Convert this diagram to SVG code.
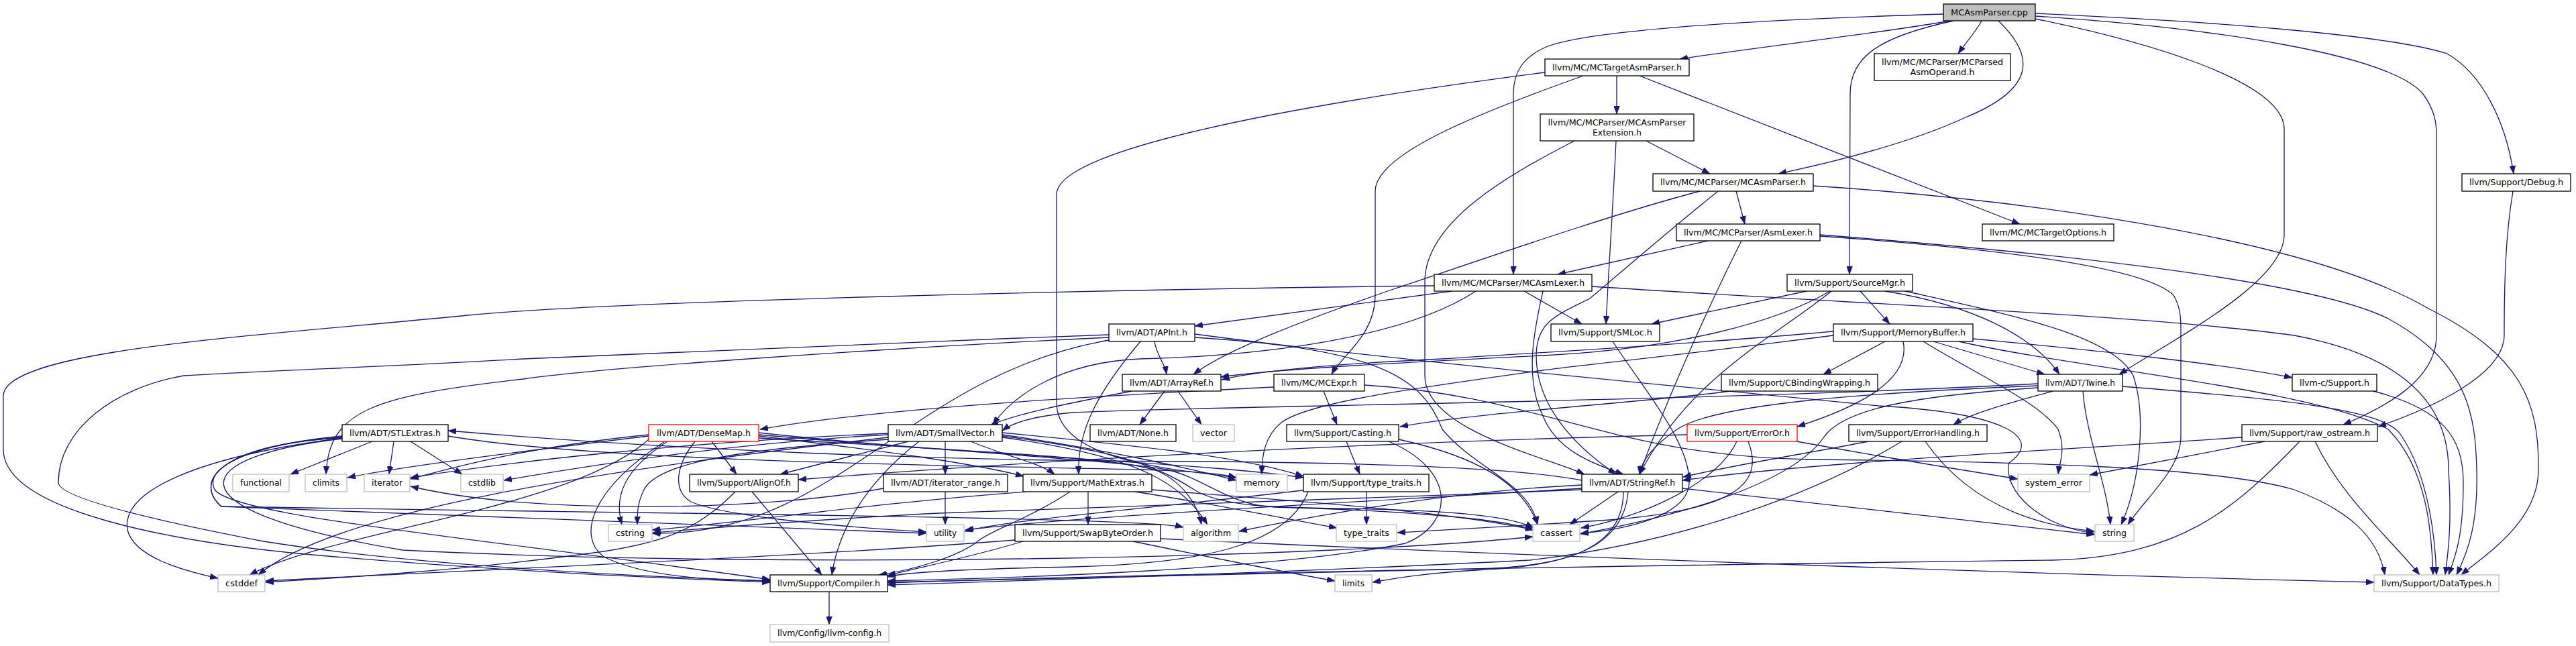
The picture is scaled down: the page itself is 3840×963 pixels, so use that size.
<svg xmlns="http://www.w3.org/2000/svg" width="3840" height="963" viewBox="0 0 3840 963">
<style>
.node rect{fill:#fff;stroke:#000;stroke-width:1.3}
.node.gray rect{stroke:#bfbfbf}
.node.red rect{stroke:#ff0000}
.node.root rect{fill:#bfbfbf}
.node text{font-family:"DejaVu Sans Condensed","DejaVu Sans","Liberation Sans",sans-serif;font-stretch:condensed;font-size:13px;text-anchor:middle;fill:#000}
.edges path{fill:none;stroke:#191970;stroke-width:1.3;marker-end:url(#ah)}
</style>
<defs>
<marker id="ah" viewBox="0 0 12 9" refX="12" refY="4.5" markerWidth="12" markerHeight="9" orient="auto" markerUnits="userSpaceOnUse"><path d="M0,0L12,4.5L0,9z" fill="#191970" stroke="#191970" stroke-width="0.5"/></marker>
</defs>
<rect x="0" y="0" width="3840" height="963" fill="#fff"/>
<g class="edges">
<path d="M2907,31 C2800,50 2620,70 2504,88"/>
<path d="M2954,31 C2945,48 2930,64 2919,80"/>
<path d="M2979,31 C3030,80 3040,130 2930,175 C2850,212 2750,238 2651,259"/>
<path d="M2897,21 C2600,30 2380,45 2310,68 C2268,84 2256,110 2256,140 L2256,409"/>
<path d="M2912,31 C2800,55 2758,85 2758,140 L2757,409"/>
<path d="M3034,20 C3300,32 3560,52 3648,80 C3700,110 3735,180 3747,259"/>
<path d="M3034,24 C3300,42 3560,80 3612,140 C3630,165 3632,185 3632,200 L3632,500 C3632,565 3560,605 3493,633"/>
<path d="M3034,28 C3200,62 3400,120 3405,190 L3405,350 C3405,420 3250,500 3159,558"/>
<path d="M2410,113 L2410,170"/>
<path d="M2444,113 L3011,334"/>
<path d="M2360,113 C2200,170 2050,230 2050,285 L2050,440 C2050,500 2000,530 1985,558"/>
<path d="M2303,108 C1900,160 1575,225 1575,290 L1575,600 C1575,690 1760,700 1843,712"/>
<path d="M2454,210 L2549,259"/>
<path d="M2409,210 C2405,300 2398,400 2394,483"/>
<path d="M2347,210 C2250,260 2124,330 2124,420 L2124,560 C2124,640 2300,680 2362,707"/>
<path d="M2588,285 L2601,334"/>
<path d="M2534,285 C2400,320 2200,390 2080,430 C1950,475 1830,520 1779,558"/>
<path d="M2561,285 C2480,350 2400,420 2370,445 C2320,470 2290,480 2290,530 C2290,600 2340,660 2409,707"/>
<path d="M2703,277 C3050,300 3450,360 3620,460 C3760,530 3785,600 3784,700 C3784,780 3700,830 3669,857"/>
<path d="M2546,359 L2322,409"/>
<path d="M2596,359 C2560,430 2490,580 2444,707"/>
<path d="M2713,350 C3100,380 3450,420 3560,475 C3680,540 3690,620 3692,700 C3694,780 3680,820 3662,857"/>
<path d="M2713,352 C3000,372 3200,400 3240,440 C3252,460 3251,480 3251,500 L3251,650 C3251,700 3200,740 3172,782"/>
<path d="M2164,434 L1781,486"/>
<path d="M2272,434 L2358,483"/>
<path d="M2300,434 C2290,480 2270,560 2300,620 C2320,670 2370,690 2420,707"/>
<path d="M2138,426 C1600,432 900,450 697,470 C400,500 5,520 5,590 L5,670 C5,760 250,810 500,830 C800,855 1000,862 1148,868"/>
<path d="M2373,427 C2800,455 3200,470 3420,500 C3580,530 3650,600 3650,700 C3655,780 3650,820 3645,857"/>
<path d="M2200,434 C2100,500 1900,530 1700,535 C1580,540 1510,590 1480,633"/>
<path d="M2693,434 L2462,483"/>
<path d="M2728,434 C2650,480 2500,520 2300,530 C2100,540 1900,550 1820,562"/>
<path d="M2730,434 C2650,500 2520,560 2444,707"/>
<path d="M2773,434 L2817,483"/>
<path d="M2810,434 C2940,455 3030,500 3070,558"/>
<path d="M2840,434 C3000,470 3150,500 3180,560 C3200,620 3190,720 3162,782"/>
<path d="M1721,509 C1724,530 1736,540 1739,558"/>
<path d="M1700,509 C1640,580 1605,640 1608,707"/>
<path d="M1653,503 C1300,520 900,548 780,565 C560,590 490,610 486,707"/>
<path d="M1653,499 C1300,512 900,528 780,535 C600,546 400,552 274,560 C170,578 87,640 87,720 C90,740 200,770 393,807 C600,840 900,858 1148,866"/>
<path d="M1653,507 C1350,560 1250,800 972,795"/>
<path d="M1781,503 C2050,520 2120,560 2150,640 C2200,700 2280,720 2292,782"/>
<path d="M1781,498 C2100,540 2500,575 2800,605 C2980,615 3050,650 2995,690 C2985,730 3040,785 3122,795"/>
<path d="M2404,509 C2450,580 2520,660 2518,720 C2516,770 2420,790 2356,795"/>
<path d="M2810,509 L2718,558"/>
<path d="M2837,509 C2850,570 2760,610 2679,636"/>
<path d="M2882,509 L3048,558"/>
<path d="M2941,505 C3100,520 3300,540 3417,563"/>
<path d="M2920,509 C3100,550 3450,580 3560,640 C3620,700 3625,800 3627,857"/>
<path d="M2733,494 C2500,515 2300,525 2150,535 C2000,542 1880,552 1821,566"/>
<path d="M2733,500 C2500,530 2350,545 2300,552 C2100,580 1950,600 1910,630 C1885,650 1881,680 1881,707"/>
<path d="M2867,509 C2950,560 3040,600 3068,640 C3080,670 3070,690 3068,707"/>
<path d="M2580,583 C2450,600 2200,615 2087,636"/>
<path d="M3060,583 C3000,600 2940,615 2912,633"/>
<path d="M3038,575 C2800,585 2560,600 2500,640 C2460,668 2446,690 2444,707"/>
<path d="M3038,578 C2850,590 2750,610 2720,650 C2680,710 2550,760 2356,796"/>
<path d="M3038,572 C2500,600 1800,605 1600,615 C1540,620 1510,630 1494,642"/>
<path d="M3164,576 C3400,595 3560,610 3580,650 C3620,710 3630,800 3632,857"/>
<path d="M3105,583 C3110,650 3140,720 3146,782"/>
<path d="M3538,583 C3640,610 3672,650 3672,720 C3672,800 3660,830 3650,857"/>
<path d="M3746,285 C3735,350 3733,420 3733,500 C3733,560 3620,610 3545,636"/>
<path d="M3376,658 L3115,708"/>
<path d="M3451,658 C3490,740 3560,800 3607,857"/>
<path d="M3342,652 C3000,675 2700,690 2508,716"/>
<path d="M3428,658 C3330,760 3250,830 3060,835 C2500,842 1700,855 1323,869"/>
<path d="M2515,648 C2000,660 1500,690 1190,715"/>
<path d="M2589,658 C2560,720 2450,770 2357,787"/>
<path d="M2678,658 C2800,680 2920,700 3008,714"/>
<path d="M2606,658 C2630,720 2590,760 2400,775 C2250,785 2150,790 2083,794"/>
<path d="M2785,658 C2700,675 2600,690 2509,711"/>
<path d="M2835,658 C2700,740 2500,810 2280,835 C1900,855 1500,866 1323,872"/>
<path d="M2870,658 C2920,730 3000,780 3122,792"/>
<path d="M2358,716 C2250,695 2000,690 1800,688 C1400,688 1000,670 668,642"/>
<path d="M2427,733 C2420,820 2330,845 2200,848 C1800,858 1500,866 1323,868"/>
<path d="M2358,723 C2200,730 2000,760 1847,792"/>
<path d="M2412,733 L2340,782"/>
<path d="M2358,730 C2000,745 1600,755 1400,765 C1200,775 1050,788 973,794"/>
<path d="M2420,733 C2420,820 2330,845 2200,850 C2120,855 2080,862 2046,868"/>
<path d="M2508,728 C2800,760 3000,785 3122,797"/>
<path d="M2358,728 C2000,750 1600,770 1439,790"/>
<path d="M1899,577 C1600,592 1300,610 1133,640"/>
<path d="M1973,583 L1993,633"/>
<path d="M2034,574 C2300,590 2400,680 2700,685 C3000,688 3300,695 3420,730 C3500,760 3545,800 3555,857"/>
<path d="M2007,658 L2027,707"/>
<path d="M2070,658 C2170,700 2170,780 2095,810 C1900,850 1500,862 1323,866"/>
<path d="M2085,655 C2200,680 2270,720 2292,782"/>
<path d="M2037,733 L2037,782"/>
<path d="M1950,733 C1920,810 1800,840 1600,845 C1450,848 1350,852 1323,860"/>
<path d="M1950,730 C1700,760 1500,775 1438,792"/>
<path d="M1409,658 L1409,707"/>
<path d="M1354,658 L1163,707"/>
<path d="M1370,658 C1290,720 1250,790 1240,857"/>
<path d="M1447,658 C1500,680 1550,690 1572,707"/>
<path d="M1494,648 C1650,670 1780,700 1843,716"/>
<path d="M1494,645 C1700,665 1850,680 1943,710"/>
<path d="M1494,652 C1700,680 1760,720 1800,782"/>
<path d="M1494,650 C1650,670 1720,690 1780,730 C1820,755 1900,757 2000,758 C2150,760 2250,768 2286,787"/>
<path d="M1324,655 C1100,670 980,690 960,730 C950,750 950,765 950,782"/>
<path d="M1324,652 C900,700 500,760 385,857"/>
<path d="M1324,648 C1100,660 900,690 751,716"/>
<path d="M1324,646 C1000,660 750,690 612,712"/>
<path d="M1061,658 L1098,707"/>
<path d="M991,658 C880,730 860,800 900,830 C960,860 1060,865 1148,866"/>
<path d="M995,658 C930,700 915,740 927,782"/>
<path d="M1036,658 C1010,690 1000,730 1030,748 C1080,770 1250,785 1381,793"/>
<path d="M1131,650 C1300,670 1450,690 1526,710"/>
<path d="M1131,645 C1450,680 1800,690 1943,712"/>
<path d="M1131,653 C1400,670 1650,680 1720,700 C1760,715 1785,750 1791,782"/>
<path d="M1131,648 C1400,672 1650,685 1740,700 C1800,715 1830,752 1900,756 C2050,760 2230,770 2286,790"/>
<path d="M967,650 C800,670 600,695 518,712"/>
<path d="M967,655 C850,760 500,790 372,857"/>
<path d="M967,648 C800,665 700,690 612,714"/>
<path d="M555,658 L433,707"/>
<path d="M587,658 L580,707"/>
<path d="M612,658 L689,707"/>
<path d="M510,650 C400,660 300,690 320,730 C350,770 700,800 1148,864"/>
<path d="M510,652 C320,665 290,720 330,755 C900,765 1700,770 1764,786"/>
<path d="M510,654 C280,680 240,760 600,820 C1200,850 2000,830 2285,800"/>
<path d="M510,653 C300,680 180,730 190,790 C200,830 270,850 325,862"/>
<path d="M668,650 C900,690 1500,695 1700,700 C1780,702 1820,706 1843,712"/>
<path d="M510,652 C320,665 290,720 330,755 C800,770 1200,790 1381,795"/>
<path d="M1121,733 L1225,857"/>
<path d="M1096,733 C1040,790 990,808 900,822 C700,850 500,862 396,868"/>
<path d="M1409,733 L1409,782"/>
<path d="M1317,728 C1150,760 800,770 612,725"/>
<path d="M1622,733 L1622,782"/>
<path d="M1595,733 C1540,770 1480,790 1460,805 C1430,830 1360,850 1310,857"/>
<path d="M1692,733 C1800,750 1900,770 1993,787"/>
<path d="M1717,730 C1900,745 2150,760 2286,790"/>
<path d="M1530,733 C1300,750 1100,780 972,790"/>
<path d="M1525,807 C1450,830 1360,848 1323,858"/>
<path d="M1689,807 C1800,830 1900,850 1990,866"/>
<path d="M1730,803 C2300,830 3000,855 3539,868"/>
<path d="M1513,805 C1200,830 700,850 396,866"/>
<path d="M1236,882 L1236,931"/>
<path d="M1736,583 L1699,633"/>
<path d="M1756,583 L1791,633"/>
<path d="M1687,583 C1600,600 1520,615 1476,634"/>
</g>
<g id="n_cpp" class="node root"><rect x="2897" y="6" width="137" height="25"/><text x="2965.5" y="23" textLength="115" lengthAdjust="spacingAndGlyphs">MCAsmParser.cpp</text></g>
<g id="n_tap" class="node"><rect x="2303" y="88" width="215" height="25"/><text x="2410.5" y="105" textLength="193" lengthAdjust="spacingAndGlyphs">llvm/MC/MCTargetAsmParser.h</text></g>
<g id="n_pao" class="node"><rect x="2794" y="80" width="203" height="40"/><text x="2895.5" y="97" textLength="181" lengthAdjust="spacingAndGlyphs">llvm/MC/MCParser/MCParsed</text><text x="2895.5" y="112" textLength="96" lengthAdjust="spacingAndGlyphs">AsmOperand.h</text></g>
<g id="n_ext" class="node"><rect x="2296" y="170" width="229" height="40"/><text x="2410.5" y="187" textLength="206" lengthAdjust="spacingAndGlyphs">llvm/MC/MCParser/MCAsmParser</text><text x="2410.5" y="202" textLength="73" lengthAdjust="spacingAndGlyphs">Extension.h</text></g>
<g id="n_map" class="node"><rect x="2464" y="259" width="239" height="26"/><text x="2583.5" y="276" textLength="217" lengthAdjust="spacingAndGlyphs">llvm/MC/MCParser/MCAsmParser.h</text></g>
<g id="n_dbg" class="node"><rect x="3670" y="259" width="162" height="26"/><text x="3751" y="276" textLength="140" lengthAdjust="spacingAndGlyphs">llvm/Support/Debug.h</text></g>
<g id="n_alx" class="node"><rect x="2499" y="334" width="214" height="25"/><text x="2606" y="351" textLength="192" lengthAdjust="spacingAndGlyphs">llvm/MC/MCParser/AsmLexer.h</text></g>
<g id="n_tgo" class="node"><rect x="2955" y="334" width="196" height="25"/><text x="3053" y="351" textLength="174" lengthAdjust="spacingAndGlyphs">llvm/MC/MCTargetOptions.h</text></g>
<g id="n_mal" class="node"><rect x="2138" y="409" width="235" height="25"/><text x="2255.5" y="426" textLength="213" lengthAdjust="spacingAndGlyphs">llvm/MC/MCParser/MCAsmLexer.h</text></g>
<g id="n_smg" class="node"><rect x="2664" y="409" width="187" height="25"/><text x="2757.5" y="426" textLength="165" lengthAdjust="spacingAndGlyphs">llvm/Support/SourceMgr.h</text></g>
<g id="n_api" class="node"><rect x="1653" y="483" width="128" height="26"/><text x="1717" y="500" textLength="106" lengthAdjust="spacingAndGlyphs">llvm/ADT/APInt.h</text></g>
<g id="n_sml" class="node"><rect x="2312" y="483" width="162" height="26"/><text x="2393" y="500" textLength="140" lengthAdjust="spacingAndGlyphs">llvm/Support/SMLoc.h</text></g>
<g id="n_mbf" class="node"><rect x="2733" y="483" width="208" height="26"/><text x="2837" y="500" textLength="186" lengthAdjust="spacingAndGlyphs">llvm/Support/MemoryBuffer.h</text></g>
<g id="n_arr" class="node"><rect x="1673" y="558" width="147" height="25"/><text x="1746.5" y="575" textLength="125" lengthAdjust="spacingAndGlyphs">llvm/ADT/ArrayRef.h</text></g>
<g id="n_mex" class="node"><rect x="1899" y="558" width="135" height="25"/><text x="1966.5" y="575" textLength="113" lengthAdjust="spacingAndGlyphs">llvm/MC/MCExpr.h</text></g>
<g id="n_cbw" class="node"><rect x="2566" y="558" width="233" height="25"/><text x="2682.5" y="575" textLength="211" lengthAdjust="spacingAndGlyphs">llvm/Support/CBindingWrapping.h</text></g>
<g id="n_twn" class="node"><rect x="3038" y="558" width="126" height="25"/><text x="3101" y="575" textLength="104" lengthAdjust="spacingAndGlyphs">llvm/ADT/Twine.h</text></g>
<g id="n_lcs" class="node"><rect x="3417" y="558" width="126" height="25"/><text x="3480" y="575" textLength="104" lengthAdjust="spacingAndGlyphs">llvm-c/Support.h</text></g>
<g id="n_stl" class="node"><rect x="510" y="633" width="158" height="25"/><text x="589" y="650" textLength="136" lengthAdjust="spacingAndGlyphs">llvm/ADT/STLExtras.h</text></g>
<g id="n_dmp" class="node red"><rect x="967" y="633" width="164" height="25"/><text x="1049" y="650" textLength="140" lengthAdjust="spacingAndGlyphs">llvm/ADT/DenseMap.h</text></g>
<g id="n_svc" class="node"><rect x="1324" y="633" width="170" height="25"/><text x="1409" y="650" textLength="148" lengthAdjust="spacingAndGlyphs">llvm/ADT/SmallVector.h</text></g>
<g id="n_non" class="node"><rect x="1625" y="633" width="128" height="25"/><text x="1689" y="650" textLength="106" lengthAdjust="spacingAndGlyphs">llvm/ADT/None.h</text></g>
<g id="n_vec" class="node gray"><rect x="1778" y="633" width="62" height="25"/><text x="1809" y="650" textLength="40" lengthAdjust="spacingAndGlyphs">vector</text></g>
<g id="n_cst" class="node"><rect x="1918" y="633" width="167" height="25"/><text x="2001.5" y="650" textLength="145" lengthAdjust="spacingAndGlyphs">llvm/Support/Casting.h</text></g>
<g id="n_eor" class="node red"><rect x="2515" y="633" width="164" height="25"/><text x="2597" y="650" textLength="142" lengthAdjust="spacingAndGlyphs">llvm/Support/ErrorOr.h</text></g>
<g id="n_ehd" class="node"><rect x="2756" y="633" width="206" height="25"/><text x="2859" y="650" textLength="184" lengthAdjust="spacingAndGlyphs">llvm/Support/ErrorHandling.h</text></g>
<g id="n_ros" class="node"><rect x="3342" y="633" width="202" height="25"/><text x="3443" y="650" textLength="180" lengthAdjust="spacingAndGlyphs">llvm/Support/raw_ostream.h</text></g>
<g id="n_fun" class="node gray"><rect x="347" y="707" width="84" height="26"/><text x="389" y="724" textLength="62" lengthAdjust="spacingAndGlyphs">functional</text></g>
<g id="n_clm" class="node gray"><rect x="455" y="707" width="62" height="26"/><text x="486" y="724" textLength="40" lengthAdjust="spacingAndGlyphs">climits</text></g>
<g id="n_itr" class="node gray"><rect x="543" y="707" width="68" height="26"/><text x="577" y="724" textLength="46" lengthAdjust="spacingAndGlyphs">iterator</text></g>
<g id="n_csl" class="node gray"><rect x="687" y="707" width="63" height="26"/><text x="718.5" y="724" textLength="41" lengthAdjust="spacingAndGlyphs">cstdlib</text></g>
<g id="n_alo" class="node"><rect x="1028" y="707" width="162" height="26"/><text x="1109" y="724" textLength="140" lengthAdjust="spacingAndGlyphs">llvm/Support/AlignOf.h</text></g>
<g id="n_itg" class="node"><rect x="1317" y="707" width="185" height="26"/><text x="1409.5" y="724" textLength="163" lengthAdjust="spacingAndGlyphs">llvm/ADT/iterator_range.h</text></g>
<g id="n_mth" class="node"><rect x="1525" y="707" width="192" height="26"/><text x="1621" y="724" textLength="170" lengthAdjust="spacingAndGlyphs">llvm/Support/MathExtras.h</text></g>
<g id="n_mem" class="node gray"><rect x="1843" y="707" width="76" height="26"/><text x="1881" y="724" textLength="54" lengthAdjust="spacingAndGlyphs">memory</text></g>
<g id="n_tth" class="node"><rect x="1943" y="707" width="187" height="26"/><text x="2036.5" y="724" textLength="165" lengthAdjust="spacingAndGlyphs">llvm/Support/type_traits.h</text></g>
<g id="n_srf" class="node"><rect x="2358" y="707" width="150" height="26"/><text x="2433" y="724" textLength="128" lengthAdjust="spacingAndGlyphs">llvm/ADT/StringRef.h</text></g>
<g id="n_ser" class="node gray"><rect x="3008" y="707" width="107" height="26"/><text x="3061.5" y="724" textLength="85" lengthAdjust="spacingAndGlyphs">system_error</text></g>
<g id="n_cstr" class="node gray"><rect x="907" y="782" width="65" height="25"/><text x="939.5" y="799" textLength="43" lengthAdjust="spacingAndGlyphs">cstring</text></g>
<g id="n_utl" class="node gray"><rect x="1381" y="782" width="56" height="25"/><text x="1409" y="799" textLength="34" lengthAdjust="spacingAndGlyphs">utility</text></g>
<g id="n_sbo" class="node"><rect x="1513" y="782" width="217" height="25"/><text x="1621.5" y="799" textLength="195" lengthAdjust="spacingAndGlyphs">llvm/Support/SwapByteOrder.h</text></g>
<g id="n_alg" class="node gray"><rect x="1764" y="782" width="82" height="25"/><text x="1805" y="799" textLength="60" lengthAdjust="spacingAndGlyphs">algorithm</text></g>
<g id="n_ttr" class="node gray"><rect x="1992" y="782" width="90" height="25"/><text x="2037" y="799" textLength="68" lengthAdjust="spacingAndGlyphs">type_traits</text></g>
<g id="n_cas" class="node gray"><rect x="2285" y="782" width="70" height="25"/><text x="2320" y="799" textLength="48" lengthAdjust="spacingAndGlyphs">cassert</text></g>
<g id="n_str" class="node gray"><rect x="3123" y="782" width="58" height="25"/><text x="3152" y="799" textLength="36" lengthAdjust="spacingAndGlyphs">string</text></g>
<g id="n_csd" class="node gray"><rect x="325" y="857" width="70" height="25"/><text x="360" y="874" textLength="48" lengthAdjust="spacingAndGlyphs">cstddef</text></g>
<g id="n_cmp" class="node"><rect x="1148" y="857" width="175" height="25"/><text x="1235.5" y="874" textLength="153" lengthAdjust="spacingAndGlyphs">llvm/Support/Compiler.h</text></g>
<g id="n_lim" class="node gray"><rect x="1990" y="857" width="55" height="25"/><text x="2017.5" y="874" textLength="33" lengthAdjust="spacingAndGlyphs">limits</text></g>
<g id="n_dty" class="node gray"><rect x="3539" y="857" width="186" height="25"/><text x="3632" y="874" textLength="164" lengthAdjust="spacingAndGlyphs">llvm/Support/DataTypes.h</text></g>
<g id="n_cfg" class="node gray"><rect x="1148" y="931" width="177" height="26"/><text x="1236.5" y="948" textLength="155" lengthAdjust="spacingAndGlyphs">llvm/Config/llvm-config.h</text></g>
</svg>
